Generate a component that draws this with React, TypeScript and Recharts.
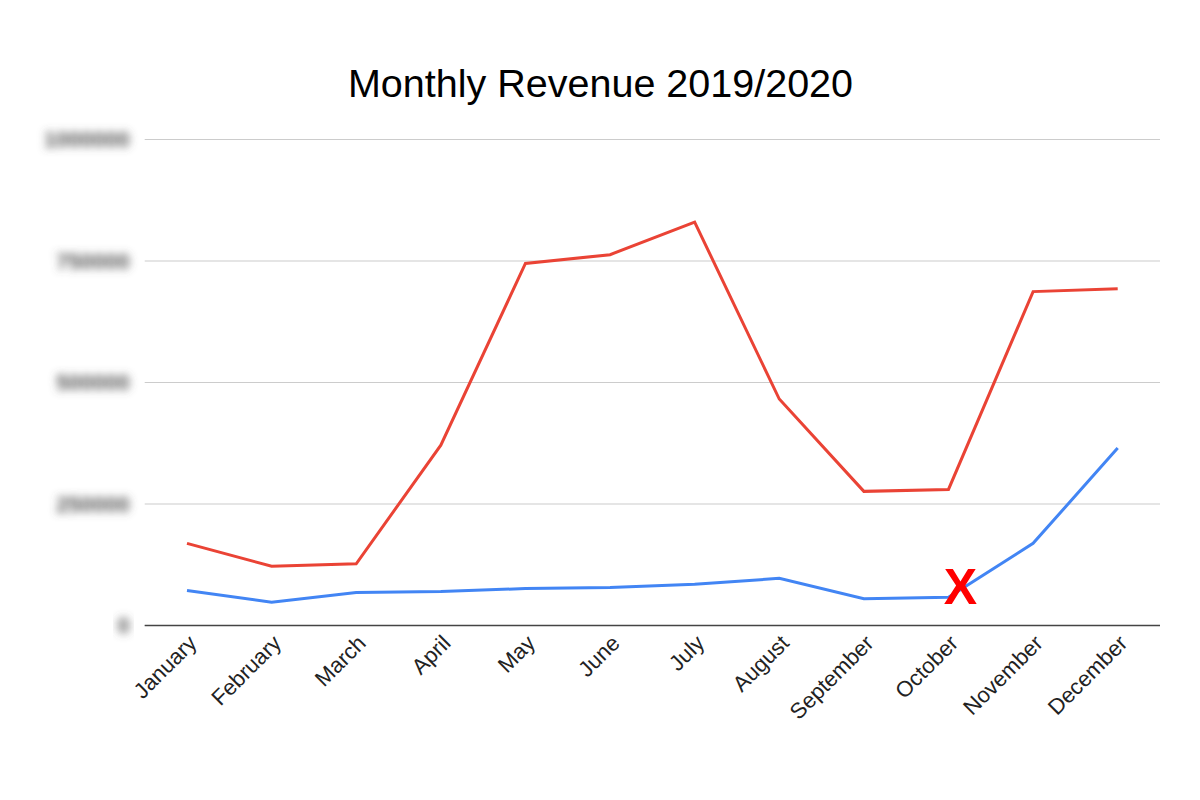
import React from "react";
import { LineChart, Line, XAxis, YAxis, CartesianGrid, ReferenceDot } from "recharts";

const months = [
  "January", "February", "March", "April", "May", "June",
  "July", "August", "September", "October", "November", "December",
];
const revenue2020 = [169000, 122000, 127000, 371000, 745000, 763000, 830000, 466000, 276000, 280000, 687000, 693000];
const revenue2019 = [72000, 48000, 68000, 70000, 76000, 78000, 85000, 97000, 55000, 58000, 169000, 365000];
const yTicks = [0, 250000, 500000, 750000, 1000000];

const data = months.map((m, i) => ({ month: m, red: revenue2020[i], blue: revenue2019[i] }));

function BlurredTick(props: any) {
  const { x, y, payload } = props;
  return (
    <text
      x={x}
      y={y}
      dy="0.35em"
      textAnchor="end"
      fontSize={22}
      fontWeight="bold"
      fill="#555"
      filter="url(#ylabelBlur)"
      fontFamily="'Liberation Sans', Arial, sans-serif"
    >
      {payload.value}
    </text>
  );
}

function MonthTick(props: any) {
  const { x, y, payload } = props;
  return (
    <text
      x={x}
      y={y}
      transform={`rotate(-45, ${x}, ${y})`}
      textAnchor="end"
      dy="0.71em"
      fontSize={22}
      fill="#222"
      fontFamily="'Liberation Sans', Arial, sans-serif"
    >
      {payload.value}
    </text>
  );
}

export default function App() {
  return (
    <div style={{ position: "absolute", left: 0, top: 0, width: 1200, height: 800, background: "#fff" }}>
      <svg width={1200} height={800} style={{ position: "absolute", left: 0, top: 0, pointerEvents: "none" }}>
        <defs>
          <filter id="ylabelBlur" x="-30%" y="-100%" width="160%" height="300%">
            <feGaussianBlur stdDeviation="4.5" />
          </filter>
        </defs>
        <text
          x={600.5}
          y={97}
          textAnchor="middle"
          fontSize={39.5}
          fill="#000"
          fontFamily="'Liberation Sans', Arial, sans-serif"
        >
          Monthly Revenue 2019/2020
        </text>
      </svg>
      <div style={{ position: "absolute", left: 0, top: 0 }}>
        <LineChart width={1200} height={800} data={data} margin={{ top: 139.5, right: 40, left: 0, bottom: 0 }}>
          <CartesianGrid vertical={false} stroke="#cccccc" strokeWidth={1.2} />
          <XAxis
            dataKey="month"
            height={174.5}
            padding={{ left: 42.3, right: 42.3 }}
            axisLine={{ stroke: "#444", strokeWidth: 1.6 }}
            tickLine={false}
            interval={0}
            tick={<MonthTick />}
          />
          <YAxis
            width={144.7}
            domain={[0, 1000000]}
            ticks={yTicks}
            axisLine={false}
            tickLine={false}
            tickMargin={9}
            tick={<BlurredTick />}
          />
          <Line type="linear" dataKey="red" stroke="#ea4335" strokeWidth={3} dot={false} isAnimationActive={false} />
          <Line type="linear" dataKey="blue" stroke="#4285f4" strokeWidth={3} dot={false} isAnimationActive={false} />
          <ReferenceDot
            x="October"
            y={81000}
            shape={(p: any) => (
              <text
                x={p.cx + 12}
                y={p.cy + 18}
                textAnchor="middle"
                fontSize={50}
                fontWeight="bold"
                fill="#ff0000"
                fontFamily="'Liberation Sans', Arial, sans-serif"
              >
                X
              </text>
            )}
          />
        </LineChart>
      </div>
    </div>
  );
}
